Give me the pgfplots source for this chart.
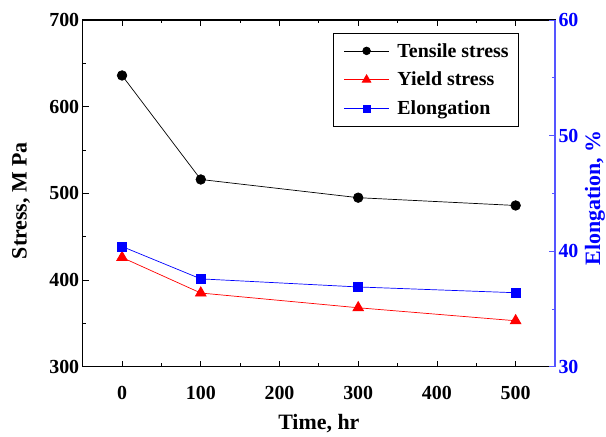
\documentclass[border=0pt]{standalone}
\usepackage{fontspec}
\setmainfont{Liberation Serif}
\usepackage{pgfplots}
\pgfplotsset{compat=1.18}
\definecolor{axblue}{RGB}{85,85,255}
\pgfplotstableread{
t ts ys
0 636 426
100 516 385
300 495 368
500 486 353
}\stress
\pgfplotstableread{
t el
0 40.4
100 37.6
300 36.9
500 36.4
}\elong
\begin{document}
\begin{tikzpicture}
\pgfplotsset{
  every axis/.append style={
    scale only axis, width=472.3bp, height=346.7bp,
    xmin=-50, xmax=550,
    /pgf/number format/assume math mode=true,
    tick label style={font=\fontsize{20}{24}\selectfont\bfseries},
    label style={font=\fontsize{22}{26}\selectfont\bfseries},
    tick align=inside,
    major tick length=6bp, minor tick length=3.5bp,
    every tick/.style={line width=0.8bp},
    axis line style={line width=1.1bp},
    clip=false,
  }
}
\begin{axis}[name=ax,
  ymin=300, ymax=700, ytick={300,400,...,700}, minor ytick={350,450,550,650},
  xtick={0,100,...,500}, minor xtick={-50,50,150,250,350,450,550},
  ytick pos=left, xtick pos=both,
  xticklabel style={yshift=-16bp},
  xlabel={Time, hr},
  xlabel style={at={(axis description cs:0.5,0)},anchor=center,yshift=-57bp},
  ylabel={Stress, M Pa},
  ylabel style={at={(axis description cs:-0.1306,0.479)},anchor=center,rotate=0},
  legend style={at={(0.924,0.963)},anchor=north east,draw=black,line width=0.8bp,
    font=\fontsize{20}{24}\selectfont\bfseries,
    nodes={inner sep=0pt},
    row sep=13.5bp, column sep=8bp, inner xsep=10bp, inner ysep=10bp,
    cells={anchor=west}},
  legend image code/.code={\draw[mark repeat=2,mark phase=2,mark options={scale=0.8}] plot coordinates {(0bp,0bp) (22.5bp,0bp) (45bp,0bp)};},
]
\addplot[black, line width=0.7bp, mark=*, mark size=4.8bp] table[x=t,y=ts]{\stress};
\addlegendentry{Tensile stress}
\addplot[red, line width=0.7bp, mark=triangle*, mark size=6.2bp] table[x=t,y=ys]{\stress};
\addlegendentry{Yield stress}
\addlegendimage{blue, line width=0.7bp, mark=square*, mark size=4.5bp}
\addlegendentry{Elongation}
\end{axis}
\begin{axis}[
  ymin=30, ymax=60, ytick={30,40,50,60}, minor ytick={35,45,55},
  axis x line=none, axis y line*=right,
  y axis line style={axblue, line width=1.1bp},
  ytick style={axblue}, yticklabel style={blue},
  ylabel={Elongation, \%},
  ylabel style={blue, at={(axis description cs:1.0847,0.487)},anchor=center,rotate=0},
]
\addplot[blue, line width=0.7bp, mark=square*, mark size=4.5bp] table[x=t,y=el]{\elong};
\end{axis}
\pgfresetboundingbox
\path ([xshift=-82.7bp,yshift=-70.3bp]ax.south west) rectangle ([xshift=51bp,yshift=20bp]ax.north east);
\end{tikzpicture}
\end{document}
